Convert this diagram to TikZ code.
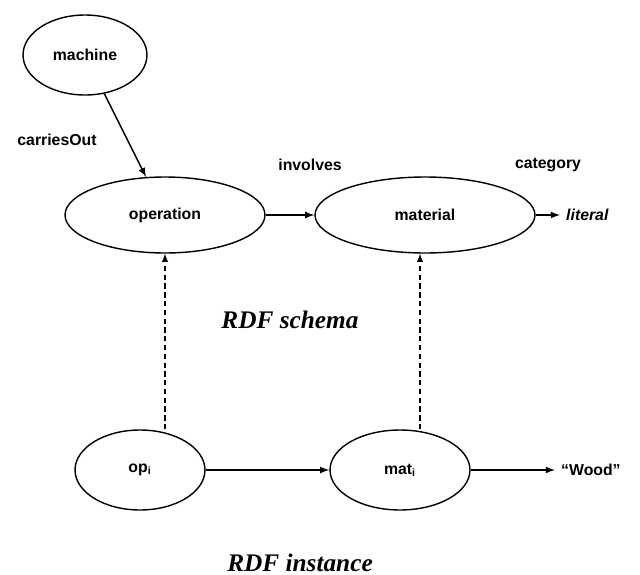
\documentclass[tikz,border=0pt]{standalone}
\usepackage{fontspec}
\setmainfont{Liberation Sans}
\newfontfamily\serifrdf{Liberation Serif}
\usetikzlibrary{arrows}
\usetikzlibrary{shapes.geometric}
\tikzset{>=latex}
\tikzstyle{cnode}=[draw=black,line width=0.8pt,shape=ellipse,font=\bfseries\small]
\tikzstyle{taro}=[->,line width=0.8pt,color=black]
\tikzstyle{daro}=[->,line width=0.6pt,densely dashed,color=black]
\tikzstyle{lbl}=[font=\bfseries\small]
\tikzstyle{rdf}=[font=\serifrdf\bfseries\itshape\Large]
\begin{document}
\begin{tikzpicture}[x=0.02cm,y=-0.02cm]
	\useasboundingbox (0,0) rectangle (640,575);

	% Schema
	\node[cnode,minimum width=2.48cm,minimum height=1.6cm] (machine) at (85,55) {machine};
	\node[cnode,minimum width=4cm,minimum height=1.52cm] (operation) at (165,215) {operation};
	\node[cnode,minimum width=4.4cm,minimum height=1.52cm] (material) at (425,215) {material};
	\node[lbl,font=\bfseries\itshape\small,anchor=west] (literal) at (560,215) {literal};
	\draw[taro] (machine) -- (operation);
	\draw[taro] (operation) -- (material);
	\draw[taro] (material) -- (literal);
	\node[lbl] (carries) at (57,140) {carriesOut};
	\node[lbl] (involves) at (310,165) {involves};
	\node[lbl] (category) at (548,165) {category};
	\node[rdf] (schema) at (290,320) {RDF schema};

	% Instance
	\node[cnode,minimum width=2.6cm,minimum height=1.6cm] (opi) at (140,470) {op\textsubscript{i}};
	\node[cnode,minimum width=2.8cm,minimum height=1.6cm] (mati) at (400,470) {mat\textsubscript{i}};
	\node[lbl,anchor=west] (wood) at (555,470) {“Wood”};
	\draw[taro] (opi) -- (mati);
	\draw[taro] (mati) -- (wood);
	\draw[daro] (opi.north -| operation.south) -- (operation.south);
	\draw[daro] (mati.north -| 420,0) -- (material.south -| 420,0);
	\node[rdf] (instance) at (300,563) {RDF instance};
\end{tikzpicture}
\end{document}
